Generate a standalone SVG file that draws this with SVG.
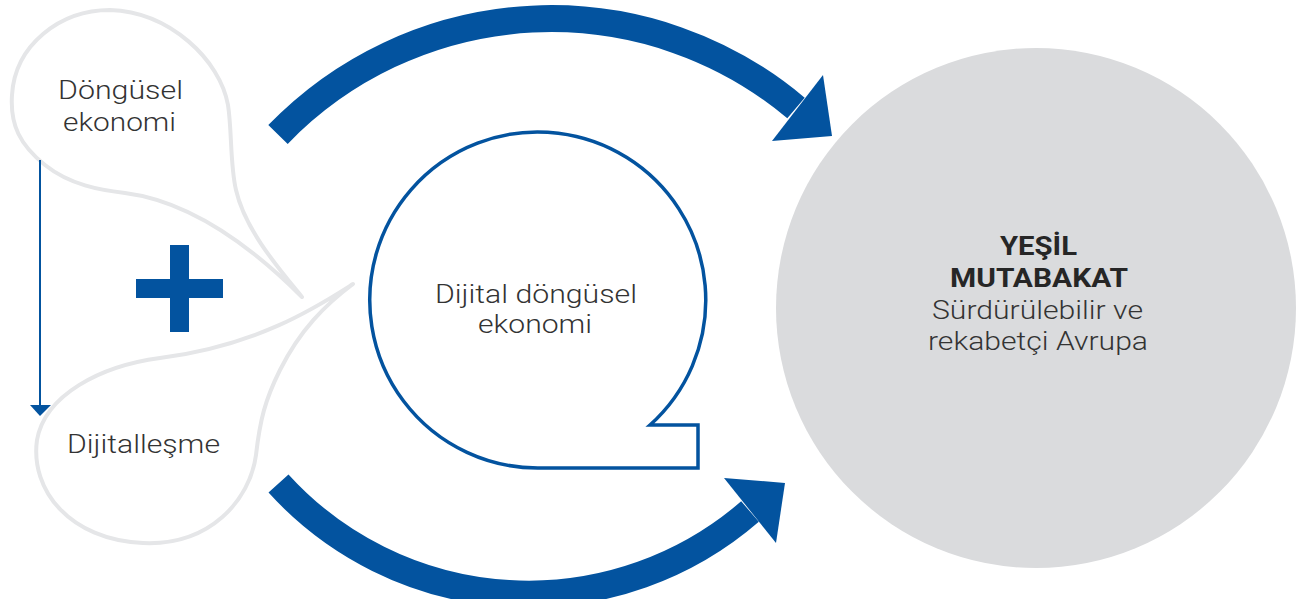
<svg xmlns="http://www.w3.org/2000/svg" width="1308" height="599" viewBox="0 0 1308 599">
  <style>
    .bubble { fill: #ffffff; stroke: #e5e6e8; stroke-width: 4; stroke-linejoin: round; }
    .lbl { font-family: Roboto, "Open Sans", "Liberation Sans", sans-serif; font-weight: 300; font-size: 25px; fill: #333333; text-anchor: middle; }
    .bold { font-weight: 700; fill: #262626; }
    .band { fill: none; stroke: #03539f; stroke-width: 27; stroke-linecap: butt; }
    .head { fill: #03539f; }
  </style>
  <rect x="0" y="0" width="1308" height="599" fill="#ffffff"/>

  <g id="node-green-deal">
    <circle cx="1036" cy="308" r="260" fill="#dadbdd"/>
    <text class="lbl bold" x="1038.5" y="255" textLength="77" lengthAdjust="spacingAndGlyphs">YEŞİL</text>
    <text class="lbl bold" x="1039" y="287" textLength="178" lengthAdjust="spacingAndGlyphs">MUTABAKAT</text>
    <text class="lbl" x="1037.5" y="319" textLength="211" lengthAdjust="spacingAndGlyphs">Sürdürülebilir ve</text>
    <text class="lbl" x="1038" y="350" textLength="220" lengthAdjust="spacingAndGlyphs">rekabetçi Avrupa</text>
  </g>

  <g id="node-circular-economy">
    <path class="bubble" d="M302,297 C280,270 245,230 236,190 C230,165 232,130 228,105 C220,60 170,12 110,10 C60,10 15,45 12,95 C10,125 20,145 45,165 C70,185 100,190 125,193 C180,200 240,235 302,297 Z"/>
    <text class="lbl" x="120.5" y="99" textLength="125" lengthAdjust="spacingAndGlyphs">Döngüsel</text>
    <text class="lbl" x="119.5" y="131" textLength="113" lengthAdjust="spacingAndGlyphs">ekonomi</text>
  </g>

  <g id="node-digitalisation">
    <path class="bubble" d="M353,284 C320,305 260,345 160,358 C100,366 45,395 37,440 C30,490 70,540 143,543 C210,546 250,500 256,455 C260,420 265,400 280,370 C300,330 325,305 353,284 Z"/>
    <text class="lbl" x="143.5" y="453" textLength="153" lengthAdjust="spacingAndGlyphs">Dijitalleşme</text>
  </g>

  <g id="node-plus">
    <rect x="170" y="245" width="19" height="87" fill="#03539f"/>
    <rect x="136" y="279" width="87" height="19" fill="#03539f"/>
  </g>

  <g id="node-digital-circular-economy">
    <path d="M538,468 A168,168 0 1 1 650,425 L698,425 L698,468 Z" fill="#ffffff" stroke="#03539f" stroke-width="3.5" stroke-linejoin="miter"/>
    <text class="lbl" x="536" y="303" textLength="202" lengthAdjust="spacingAndGlyphs">Dijital döngüsel</text>
    <text class="lbl" x="535" y="333" textLength="114" lengthAdjust="spacingAndGlyphs">ekonomi</text>
  </g>

  <g id="connectors">
    <path class="band" d="M278,134.5 A380,380 0 0 1 796,108"/>
    <polygon class="head" points="823,75 832,136 772,141"/>
    <path class="band" d="M278.5,483.5 A338,338 0 0 0 750,511.5"/>
    <polygon class="head" points="724,478 785,483 776,543"/>
    <line x1="40" y1="160" x2="40" y2="406" stroke="#03539f" stroke-width="2"/>
    <polygon class="head" points="30,405 51,405 40,416"/>
  </g>
</svg>
